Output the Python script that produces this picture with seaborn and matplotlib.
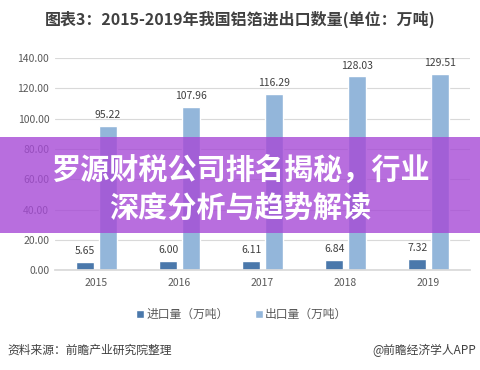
import matplotlib
matplotlib.use("Agg")
import matplotlib.pyplot as plt
import seaborn as sns
import pandas as pd
from matplotlib.patches import Rectangle

years = ["2015", "2016", "2017", "2018", "2019"]
imports = [5.65, 6.00, 6.11, 6.84, 7.32]
exports = [95.22, 107.96, 116.29, 128.03, 129.51]
series_names = ["进口量（万吨）", "出口量（万吨）"]
yticks = [0, 20, 40, 60, 80, 100, 120, 140]

sns.set_theme(style="white")
plt.rcParams['font.family'] = ['Noto Sans CJK SC', 'DejaVu Sans']

df = pd.DataFrame({
    "year": years * 2,
    "value": imports + exports,
    "series": [series_names[0]] * len(years) + [series_names[1]] * len(years),
})

fig = plt.figure(figsize=(4.81, 3.70), dpi=100)
ax = fig.add_axes([0.114, 0.27, 0.863, 0.573])
palette = {series_names[0]: "#4a78ab", series_names[1]: "#93b6da"}
sns.barplot(data=df, x="year", y="value", hue="series", palette=palette,
            width=0.54, gap=0.2, ax=ax, saturation=1, legend=True)

ax.set_ylim(0, 140)
ax.set_yticks(yticks)
ax.set_yticklabels([f"{v:.2f}" for v in yticks], fontsize=7.5, color="#595959")
ax.tick_params(axis='x', labelsize=7.5, colors="#595959", length=0, pad=6)
ax.tick_params(axis='y', length=0, pad=4)
ax.yaxis.grid(True, color="#d9d9d9", linewidth=0.8)
ax.set_axisbelow(True)
for s in ["top", "right", "left"]:
    ax.spines[s].set_visible(False)
ax.spines["bottom"].set_color("#d9d9d9")
ax.set_xlabel("")
ax.set_ylabel("")

for cont in ax.containers:
    ax.bar_label(cont, fmt="%.2f", fontsize=7.5, color="#404040", padding=4)

leg = ax.legend(loc="upper center", bbox_to_anchor=(0.45, -0.13), ncol=2,
                frameon=False, fontsize=8.5, handlelength=0.7, handleheight=0.7,
                handletextpad=0.2, columnspacing=2.2)
for t in leg.get_texts():
    t.set_color("#595959")

fig.text(0.5, 0.947, "图表3：2015-2019年我国铝箔进出口数量(单位：万吨)",
         ha="center", va="center", fontsize=11.5, fontweight="bold", color="#404040")
fig.text(0.016, 0.053, "资料来源：前瞻产业研究院整理", ha="left", va="center",
         fontsize=8.5, color="#404040")
fig.text(0.99, 0.053, "@前瞻经济学人APP", ha="right", va="center",
         fontsize=8.5, color="#404040")

# purple banner overlay
fig.patches.append(Rectangle((0, 1 - 233 / 370), 1, (233 - 137) / 370,
                             transform=fig.transFigure, facecolor="#a64ad6",
                             alpha=0.8, edgecolor="none", zorder=10))
fig.text(0.5, 1 - 170 / 370, "罗源财税公司排名揭秘，行业", ha="center", va="center",
         fontsize=21, fontweight="bold", color="white", zorder=11)
fig.text(0.5, 1 - 208 / 370, "深度分析与趋势解读", ha="center", va="center",
         fontsize=21, fontweight="bold", color="white", zorder=11)

fig.savefig("out.png", dpi=100)
